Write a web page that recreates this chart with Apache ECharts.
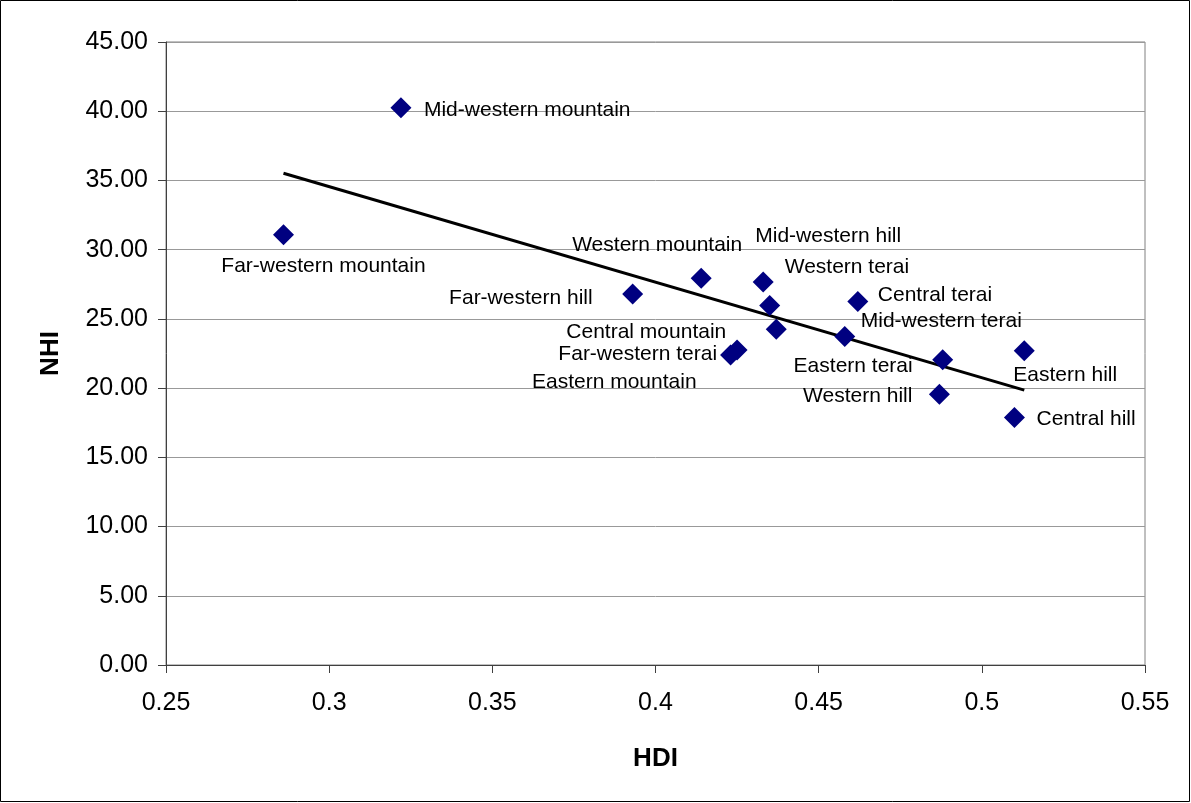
<!DOCTYPE html>
<html>
<head>
<meta charset="utf-8">
<script src="https://cdn.jsdelivr.net/npm/echarts@6/dist/echarts.min.js"></script>
<style>
html,body{margin:0;padding:0;background:#fff;}
#c{width:1191px;height:803px;}
</style>
</head>
<body>
<div id="c"></div>
<script>
// Data
const regions = ["Mid-western mountain","Far-western mountain","Far-western hill","Western mountain","Mid-western hill","Western terai","Central mountain","Far-western terai","Eastern mountain","Central terai","Mid-western terai","Eastern terai","Western hill","Eastern hill","Central hill"];
const hdi = [0.322,0.286,0.393,0.414,0.433,0.435,0.437,0.425,0.423,0.462,0.458,0.488,0.487,0.513,0.510];
const nhi = [40.25,31.07,26.80,27.94,27.67,25.96,24.25,22.76,22.40,26.25,23.72,22.04,19.56,22.69,17.87];
const yTicks = ["0.00","5.00","10.00","15.00","20.00","25.00","30.00","35.00","40.00","45.00"];
const xTicks = ["0.25","0.3","0.35","0.4","0.45","0.5","0.55"];

// Label layout (style only): anchor alignment and offset from point centre
const labelLayout = {
  "Mid-western mountain": ["left", 23, 2],
  "Far-western mountain": ["center", 40, 31],
  "Far-western hill": ["right", -40, 4],
  "Western mountain": ["center", -44, -33],
  "Mid-western hill": ["center", 65, -46],
  "Western terai": ["left", 15, -38],
  "Central mountain": ["right", -50, 3],
  "Far-western terai": ["right", -20, 4],
  "Eastern mountain": ["right", -34, 27],
  "Central terai": ["left", 20, -6],
  "Mid-western terai": ["left", 16, -15],
  "Eastern terai": ["right", -30, 6],
  "Western hill": ["right", -27, 2],
  "Eastern hill": ["left", -11, 24],
  "Central hill": ["left", 22, 2]
};

// Linear trend line (least squares) computed from the data
const n = hdi.length;
const mx = hdi.reduce((a,b)=>a+b,0)/n;
const my = nhi.reduce((a,b)=>a+b,0)/n;
let sxy = 0, sxx = 0;
for (let i=0;i<n;i++){ sxy += (hdi[i]-mx)*(nhi[i]-my); sxx += (hdi[i]-mx)*(hdi[i]-mx); }
const slope = sxy/sxx, icpt = my - slope*mx;
const xmin = Math.min(...hdi), xmax = Math.max(...hdi);
const trend = [[xmin, icpt+slope*xmin],[xmax, icpt+slope*xmax]];

const FONT = "'Liberation Sans', Arial, sans-serif";
const SYM = 21;
const pts = regions.map((r,i)=>{
  const L = labelLayout[r];
  return {
    name: r,
    value: [hdi[i], nhi[i]],
    label: {show:true, position:[SYM/2 + L[1], SYM/2 + L[2]], align:L[0], verticalAlign:'middle'}
  };
});

const chart = echarts.init(document.getElementById('c'), null, {renderer:'canvas'});
chart.setOption({
  animation:false,
  backgroundColor:'#ffffff',
  grid:{left:166, right:46, top:42, bottom:138, show:true, borderColor:'#808080', borderWidth:1, backgroundColor:'transparent'},
  graphic:[{type:'rect', shape:{x:0.5,y:0.5,width:1189,height:801}, style:{fill:null, stroke:'#000', lineWidth:1}, z:-1}],
  xAxis:{
    type:'value', min:0.25, max:0.55, interval:0.05,
    name:'HDI', nameLocation:'middle', nameGap:81,
    nameTextStyle:{fontFamily:FONT, fontSize:26, fontWeight:'bold', color:'#000'},
    axisLine:{show:true, lineStyle:{color:'#404040', width:1}},
    axisTick:{show:true, inside:false, length:8, lineStyle:{color:'#404040'}},
    axisLabel:{margin:26, fontFamily:FONT, fontSize:25, color:'#000', formatter:(v)=>{const i=Math.round((v-0.25)/0.05); return xTicks[i]!==undefined?xTicks[i]:'';}},
    splitLine:{show:false}
  },
  yAxis:{
    type:'value', min:0, max:45, interval:5,
    name:'NHI', nameLocation:'middle', nameGap:102, nameRotate:90,
    nameTextStyle:{fontFamily:FONT, fontSize:26, fontWeight:'bold', color:'#000'},
    axisLine:{show:true, lineStyle:{color:'#404040', width:1}},
    axisTick:{show:true, inside:false, length:8, lineStyle:{color:'#404040'}},
    axisLabel:{margin:18, fontFamily:FONT, fontSize:25, color:'#000', formatter:(v)=>{const i=Math.round(v/5); return yTicks[i]!==undefined?yTicks[i]:'';}},
    splitLine:{show:true, lineStyle:{color:'#999999', width:1}}
  },
  series:[
    {
      type:'line', data:trend, symbol:'none', silent:true,
      lineStyle:{color:'#000', width:3}, z:3
    },
    {
      type:'scatter', data:pts, symbol:'diamond', symbolSize:[SYM,SYM],
      itemStyle:{color:'#000080', opacity:1},
      label:{fontFamily:FONT, fontSize:21, color:'#000', formatter:'{b}'},
      labelLayout:{hideOverlap:false},
      z:4
    }
  ]
});
</script>
</body>
</html>
